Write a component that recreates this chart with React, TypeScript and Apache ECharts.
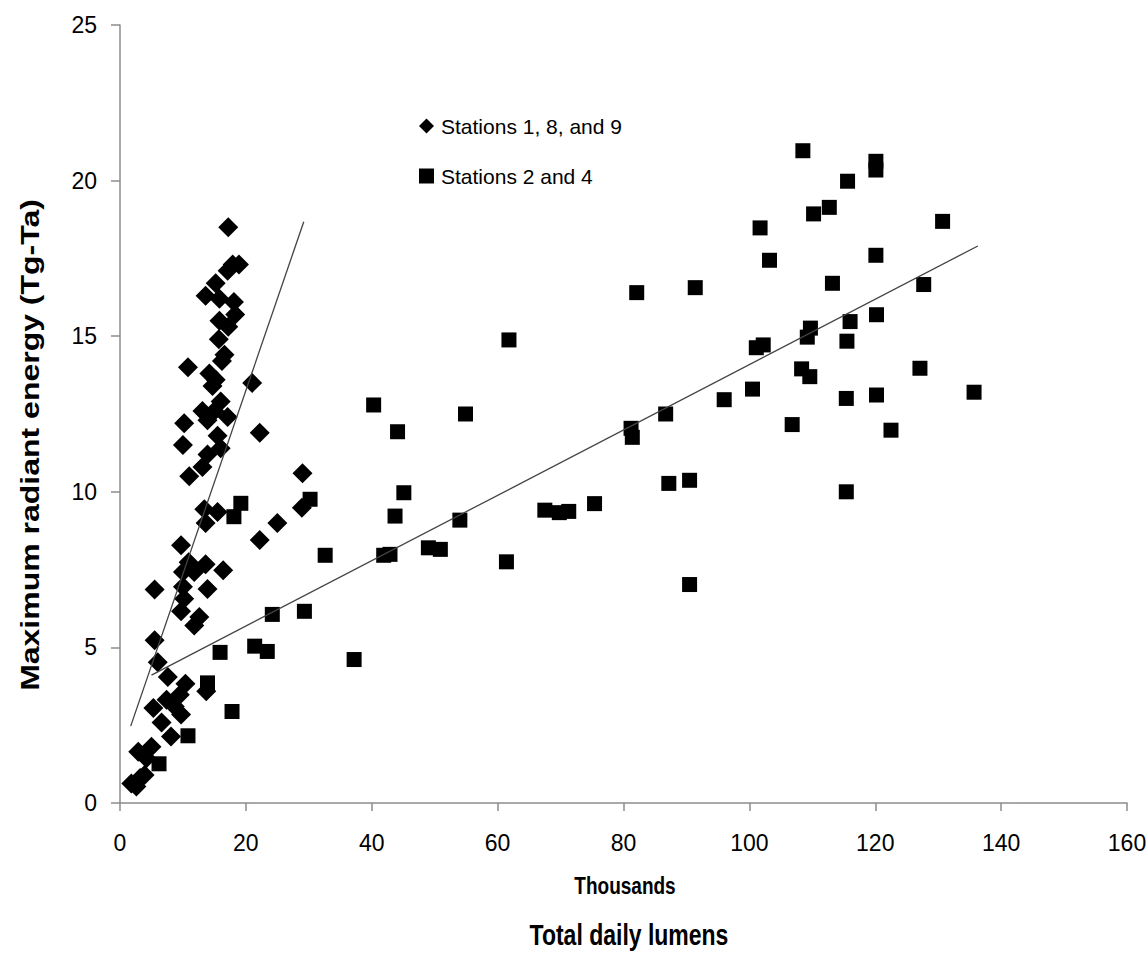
import React, { useEffect, useRef } from "react";
import * as echarts from "echarts";

const xTicks = [0, 20, 40, 60, 80, 100, 120, 140, 160];
const yTicks = [0, 5, 10, 15, 20, 25];

const seriesNames = ["Stations 1, 8, and 9", "Stations 2 and 4"];

// Stations 1, 8, and 9 (thousands of lumens, Tg-Ta)
const stationsA: [number, number][] = [
  [17.2, 18.5], [17.9, 17.3], [18.9, 17.3], [17.1, 17.1], [15.2, 16.7], [13.6, 16.3],
  [15.8, 16.2], [18.1, 16.1], [18.3, 15.7], [15.8, 15.5], [17.2, 15.3], [15.7, 14.9],
  [16.6, 14.4], [16.2, 14.2], [10.8, 14.0], [14.2, 13.8], [21.0, 13.5], [15.2, 13.6],
  [14.7, 13.4], [16.0, 12.9], [13.1, 12.6], [15.0, 12.6], [17.1, 12.4], [13.9, 12.3],
  [10.2, 12.2], [22.2, 11.9], [15.5, 11.8], [10.0, 11.5], [16.0, 11.4], [13.9, 11.2],
  [13.1, 10.8], [11.0, 10.5], [29.0, 10.6], [13.4, 9.44], [15.5, 9.35], [13.6, 9.0],
  [22.2, 8.45], [25.0, 9.0], [28.9, 9.49], [9.7, 8.28], [10.9, 7.74], [13.6, 7.67],
  [16.4, 7.48], [10.0, 7.42], [11.8, 7.42], [5.5, 6.86], [10.0, 6.95], [13.9, 6.88],
  [10.2, 6.56], [9.7, 6.16], [12.6, 5.98], [11.8, 5.7], [5.5, 5.23], [6.0, 4.52],
  [7.6, 4.05], [10.4, 3.83], [13.7, 3.59], [9.5, 3.48], [7.4, 3.32], [5.3, 3.05],
  [8.7, 3.1], [9.7, 2.84], [6.6, 2.59], [8.1, 2.14], [2.9, 1.65], [5.0, 1.81],
  [4.2, 1.44], [3.9, 0.9], [1.8, 0.63], [2.6, 0.53], [3.2, 0.8],
];

// Stations 2 and 4
const stationsB: [number, number][] = [
  [6.2, 1.26], [10.8, 2.16], [13.9, 3.86], [17.8, 2.94], [15.9, 4.84], [19.2, 9.63],
  [18.1, 9.2], [21.4, 5.04], [23.4, 4.87], [24.2, 6.06], [29.3, 6.16], [30.2, 9.76],
  [32.6, 7.96], [37.2, 4.61], [40.3, 12.79], [41.9, 7.96], [42.9, 7.99], [43.7, 9.22],
  [44.1, 11.93], [45.1, 9.97], [49.0, 8.2], [50.9, 8.15], [54.0, 9.09], [54.9, 12.5],
  [61.4, 7.75], [61.8, 14.88], [67.5, 9.41], [69.8, 9.33], [71.3, 9.37], [75.4, 9.62],
  [81.2, 12.04], [81.4, 11.75], [82.1, 16.4], [86.7, 12.5], [87.2, 10.27], [90.5, 10.37],
  [90.5, 7.02], [91.4, 16.56], [96.0, 12.96], [100.5, 13.3], [101.1, 14.63], [102.2, 14.72],
  [101.7, 18.48], [103.2, 17.44], [106.8, 12.16], [108.3, 13.95], [109.6, 13.7], [109.2, 14.97],
  [109.7, 15.26], [108.5, 20.96], [110.2, 18.93], [112.7, 19.14], [113.2, 16.7], [115.5, 14.84],
  [115.4, 13.0], [115.4, 10.0], [115.6, 19.98], [116.0, 15.47], [120.1, 20.62], [120.1, 20.34],
  [120.1, 17.6], [120.2, 15.69], [120.2, 13.11], [122.5, 11.98], [127.1, 13.97], [127.7, 16.66],
  [130.7, 18.69], [135.7, 13.2],
];

// linear trend lines (end points)
const trendA: [number, number][] = [[1.7, 2.47], [29.2, 18.68]];
const trendB: [number, number][] = [[5.0, 4.11], [136.3, 17.9]];

const xAxisTitle = "Thousands";
const xAxisTitle2 = "Total daily lumens";
const yAxisTitle = "Maximum radiant energy (Tg-Ta)";

const ARIAL = "'Liberation Sans', Arial, sans-serif";

export default function App() {
  const ref = useRef<HTMLDivElement>(null);
  useEffect(() => {
    if (!ref.current) return;
    const chart = echarts.init(ref.current, undefined, { renderer: "svg" });
    chart.setOption({
      animation: false,
      backgroundColor: "#ffffff",
      grid: { left: 120, top: 25, width: 1007, height: 778, containLabel: false, outerBoundsMode: "none" },
      legend: {
        data: [
          { name: seriesNames[0], icon: "diamond" },
          { name: seriesNames[1], icon: "rect" },
        ],
        orient: "vertical",
        left: 414,
        top: 108,
        itemWidth: 15,
        itemHeight: 15,
        itemGap: 24,
        textStyle: { fontFamily: ARIAL, fontSize: 21, color: "#000", lineHeight: 26, padding: [0, 0, 0, 2] },
      },
      xAxis: {
        type: "value",
        min: 0,
        max: 160,
        interval: 20,
        splitLine: { show: false },
        axisLine: { show: true, onZero: false, lineStyle: { color: "#8c8c8c", width: 1.5 } },
        axisTick: { show: true, inside: false, length: 8, lineStyle: { color: "#8c8c8c", width: 1.5 } },
        axisLabel: {
          margin: 28,
          fontFamily: ARIAL,
          fontSize: 23,
          color: "#000",
          formatter: (v: number) => (xTicks.includes(v) ? String(v) : ""),
        },
      },
      yAxis: {
        type: "value",
        min: 0,
        max: 25,
        interval: 5,
        splitLine: { show: false },
        axisLine: { show: true, onZero: false, lineStyle: { color: "#8c8c8c", width: 1.5 } },
        axisTick: { show: true, inside: false, length: 9, lineStyle: { color: "#8c8c8c", width: 1.5 } },
        axisLabel: {
          margin: 23,
          fontFamily: ARIAL,
          fontSize: 23,
          color: "#000",
          formatter: (v: number) => (yTicks.includes(v) ? String(v) : ""),
        },
      },
      graphic: [
        {
          type: "text",
          x: 625,
          y: 886,
          scaleY: 1.25,
          style: {
            text: xAxisTitle,
            font: `bold 19px ${ARIAL}`,
            fill: "#000",
            align: "center",
            verticalAlign: "middle",
          },
        },
        {
          type: "text",
          x: 629,
          y: 935,
          scaleY: 1.25,
          style: {
            text: xAxisTitle2,
            font: `bold 23px ${ARIAL}`,
            fill: "#000",
            align: "center",
            verticalAlign: "middle",
          },
        },
        {
          type: "text",
          x: 30,
          y: 445,
          rotation: Math.PI / 2,
          scaleX: 1.28,
          style: {
            text: yAxisTitle,
            font: `bold 25px ${ARIAL}`,
            fill: "#000",
            align: "center",
            verticalAlign: "middle",
          },
        },
      ],
      series: [
        {
          name: seriesNames[0],
          type: "scatter",
          symbol: "diamond",
          symbolSize: 20,
          itemStyle: { color: "#000", opacity: 1 },
          data: stationsA,
          z: 3,
        },
        {
          name: seriesNames[1],
          type: "scatter",
          symbol: "rect",
          symbolSize: 15,
          itemStyle: { color: "#000", opacity: 1 },
          data: stationsB,
          z: 3,
        },
        {
          name: "trendA",
          type: "line",
          data: trendA,
          showSymbol: false,
          symbol: "none",
          lineStyle: { color: "#444", width: 1.3 },
          z: 4,
        },
        {
          name: "trendB",
          type: "line",
          data: trendB,
          showSymbol: false,
          symbol: "none",
          lineStyle: { color: "#444", width: 1.3 },
          z: 4,
        },
      ],
    });
    return () => chart.dispose();
  }, []);
  return (
    <div
      ref={ref}
      style={{ position: "fixed", left: 0, top: 0, width: 1148, height: 959, background: "#fff" }}
    />
  );
}
